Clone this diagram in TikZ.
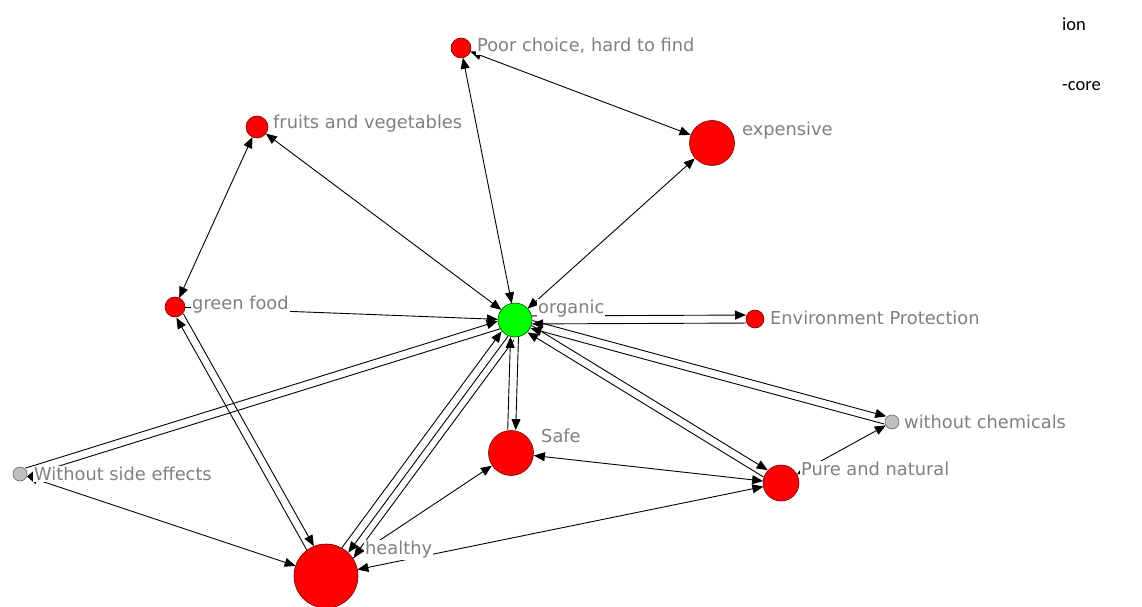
\documentclass[tikz,border=0pt]{standalone}
\usepackage{fontspec}
\setmainfont{DejaVu Sans}
\newfontfamily\notefont{Carlito}
\usetikzlibrary{arrows.meta,calc}

\definecolor{labelgray}{RGB}{128,128,128}
\definecolor{nodered}{RGB}{255,0,0}
\definecolor{nodegreen}{RGB}{0,255,0}
\definecolor{nodegray}{RGB}{192,192,192}

\pgfdeclarelayer{paper}
\pgfdeclarelayer{ties}
\pgfsetlayers{paper,ties,main}

% one straight connector between two nodes, shifted sideways by #3 pt,
% trimmed by the two radii (#4, #5), with tips #6
\newcommand\edgeline[6]{%
  \draw[edge,#6,shorten <=#4pt,shorten >=#5pt]
    ($(#1.center)!#3pt!90:(#2.center)$) -- ($(#2.center)!#3pt!-90:(#1.center)$);}
% a reciprocated tie: two parallel lines, one arrow each way
\newcommand\pairlink[4]{%
  \edgeline{#1}{#2}{4}{#3}{#4}{->}%
  \edgeline{#2}{#1}{4}{#4}{#3}{->}}

\tikzset{
  edge/.style={line width=0.9pt,black},
  redv/.style={circle,fill=nodered,draw=red!45!black,line width=0.6pt,inner sep=0pt,minimum size=#1},
  greenv/.style={circle,fill=nodegreen,draw=green!30!black,line width=0.6pt,inner sep=0pt,minimum size=#1},
  grayv/.style={circle,fill=nodegray,draw=black!60,line width=0.6pt,inner sep=0pt,minimum size=#1},
  lbl/.style={anchor=west,text=labelgray,fill=white,inner sep=1pt,
    font=\fontsize{17.8}{20}\selectfont},
  note/.style={anchor=west,text=black,inner sep=0pt,font=\notefont\fontsize{18.5}{20}\selectfont}
}

\begin{document}
\begin{tikzpicture}[x=1pt,y=-1pt,>={Triangle[length=11pt,width=9pt]}]
\useasboundingbox (0,0) rectangle (1142,607);
\begin{pgfonlayer}{paper}
\fill[white] (0,0) rectangle (1142,607);
\end{pgfonlayer}

% vertices
\node[greenv=34pt] (org)   at (515,320) {};
\node[redv=20pt]   (poor)  at (461,48)  {};
\node[redv=45pt]   (exp)   at (712,143) {};
\node[redv=22pt]   (fruit) at (257,127) {};
\node[redv=20pt]   (green) at (175,307) {};
\node[redv=18pt]   (env)   at (755,319) {};
\node[redv=45pt]   (safe)  at (511,453) {};
\node[grayv=14pt]  (chem)  at (892,422) {};
\node[grayv=14pt]  (side)  at (20,474)  {};
\node[redv=36pt]   (pure)  at (781,483) {};
\node[redv=64pt]   (hlth)  at (326,576) {};

% ties, kept beneath the vertices
\begin{pgfonlayer}{ties}
\pairlink{org}{env}{17}{9}
\pairlink{org}{chem}{17}{7}
\pairlink{org}{side}{17}{7}
\pairlink{org}{safe}{17}{23}
\pairlink{org}{pure}{17}{18}
\pairlink{green}{hlth}{10}{32}
\pairlink{org}{hlth}{17}{32}
\edgeline{org}{hlth}{11}{17}{32}{->}
\edgeline{poor}{exp}{0}{10}{23}{<->}
\edgeline{poor}{org}{0}{10}{17}{<->}
\edgeline{org}{exp}{0}{17}{23}{<->}
\edgeline{fruit}{org}{0}{11}{17}{<->}
\edgeline{fruit}{green}{0}{11}{10}{<->}
\edgeline{side}{hlth}{0}{7}{32}{<->}
\edgeline{hlth}{pure}{0}{32}{18}{<->}
\edgeline{safe}{pure}{0}{23}{18}{<->}
\edgeline{pure}{chem}{0}{18}{7}{<->}
\edgeline{green}{org}{0}{10}{17}{->}
\edgeline{hlth}{safe}{0}{32}{23}{->}
\end{pgfonlayer}

% labels
\node[lbl] (lorg)   at (537,309) {organic};
\node[lbl] (lpoor)  at (476,46)  {Poor choice, hard to find};
\node[lbl] (lexp)   at (741,131) {expensive};
\node[lbl] (lfruit) at (272,124) {fruits and vegetables};
\node[lbl] (lgreen) at (191,305) {green food};
\node[lbl] (lenv)   at (769,318) {Environment Protection};
\node[lbl] (lsafe)  at (540,436) {Safe};
\node[lbl] (lchem)  at (903,422) {without chemicals};
\node[lbl] (lside)  at (33,474)  {Without side effects};
\node[lbl] (lpure)  at (800,469) {Pure and natural};
\node[lbl] (lhlth)  at (364,550) {healthy};

% text at the right margin
\node[note] (nion)  at (1062,24) {ion};
\node[note] (ncore) at (1062,86) {-core};
\end{tikzpicture}
\end{document}
